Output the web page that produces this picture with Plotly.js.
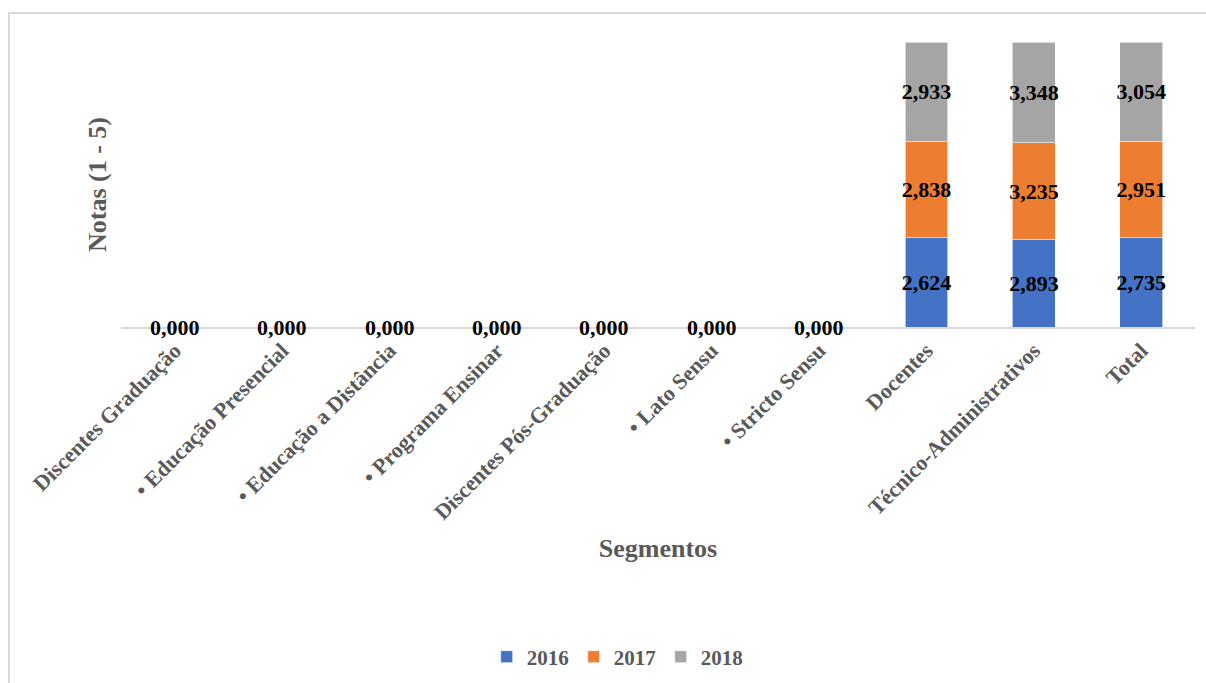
<!DOCTYPE html>
<html>
<head>
<meta charset="utf-8">
<script src="https://cdn.plot.ly/plotly-3.0.1.min.js"></script>
<style>
  html, body { margin: 0; padding: 0; overflow: hidden; background: #ffffff; }
  #frame { position: absolute; left: 8px; top: 12px; width: 1400px; height: 900px;
           border-left: 2px solid #d9d9d9; border-top: 2px solid #d9d9d9; pointer-events: none; }
  #chart { position: absolute; left: 0; top: 0; width: 1206px; height: 683px; }
</style>
</head>
<body>
<div id="chart"></div>
<div id="frame"></div>
<script>
const categories = [
  "Discentes Graduação",
  "• Educação Presencial",
  "• Educação a Distância",
  "• Programa Ensinar",
  "Discentes Pós-Graduação",
  "• Lato Sensu",
  "• Stricto Sensu",
  "Docentes",
  "Técnico-Administrativos",
  "Total"
];
const years = ["2016", "2017", "2018"];
const v2016 = [0, 0, 0, 0, 0, 0, 0, 2.624, 2.893, 2.735];
const v2017 = [0, 0, 0, 0, 0, 0, 0, 2.838, 3.235, 2.951];
const v2018 = [0, 0, 0, 0, 0, 0, 0, 2.933, 3.348, 3.054];
const colors = ["#4472C4", "#ED7D31", "#A5A5A5"];

const FONT = "Liberation Serif, Times New Roman, serif";
const fmt = v => v.toFixed(3).replace('.', ',');

const series = [v2016, v2017, v2018];
const traces = series.map((vals, i) => ({
  type: 'bar',
  name: years[i],
  x: categories,
  y: vals,
  text: vals.map(v => v === 0 ? '' : fmt(v)),
  textposition: 'inside',
  insidetextanchor: 'middle',
  textangle: 0,
  constraintext: 'none',
  textfont: { family: FONT, size: 22, color: '#000000', weight: 'bold' },
  marker: { color: colors[i], line: { color: 'rgba(255,255,255,0.6)', width: 1 } },
  hoverinfo: 'skip'
}));

// labels for categories whose stack is zero (drawn at the baseline)
const annotations = [];
categories.forEach((c, k) => {
  const sum = v2016[k] + v2017[k] + v2018[k];
  if (sum === 0) {
    annotations.push({
      x: c, y: 0, xref: 'x', yref: 'y',
      text: fmt(v2016[k]), showarrow: false,
      xanchor: 'center', yanchor: 'middle',
      font: { family: FONT, size: 22, color: '#000000', weight: 'bold' }
    });
  }
});

const layout = {
  width: 1206, height: 683,
  margin: { l: 121, r: 11, t: 42, b: 356, autoexpand: false },
  paper_bgcolor: 'rgba(0,0,0,0)',
  plot_bgcolor: 'rgba(0,0,0,0)',
  barmode: 'stack',
  barnorm: 'percent',
  bargap: 0.6,
  showlegend: true,
  legend: {
    orientation: 'h', x: 0.462, xanchor: 'center', y: -1.158, yanchor: 'middle',
    font: { family: FONT, size: 21, color: '#595959', weight: 'bold' },
    traceorder: 'normal', itemwidth: 30, entrywidth: 42, entrywidthmode: 'pixels'
  },
  xaxis: {
    type: 'category',
    tickangle: -45,
    tickfont: { family: FONT, size: 22, color: '#595959', weight: 'bold' },
    showline: true, linecolor: '#d9d9d9', linewidth: 2,
    ticks: '', showgrid: false, zeroline: false,
    title: { text: 'Segmentos', font: { family: FONT, size: 26, color: '#595959', weight: 'bold' }, standoff: 15 }
  },
  yaxis: {
    range: [0, 100],
    showticklabels: false, showgrid: false, zeroline: false, showline: false, ticks: '',
    title: { text: 'Notas (1 - 5)', font: { family: FONT, size: 26, color: '#595959', weight: 'bold' }, standoff: 5 }
  },
  annotations: annotations
};

Plotly.newPlot('chart', traces, layout, { staticPlot: true, displayModeBar: false });
</script>
</body>
</html>
